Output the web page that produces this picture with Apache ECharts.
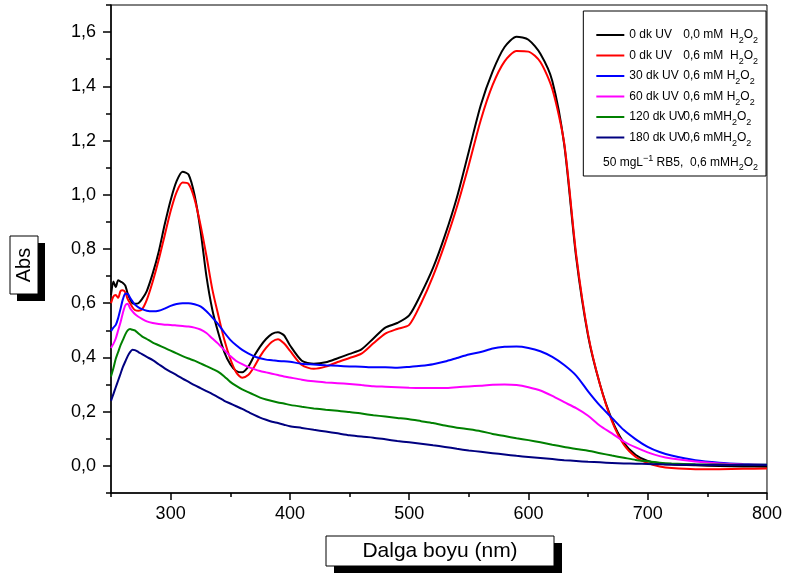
<!DOCTYPE html>
<html><head><meta charset="utf-8">
<script src="https://cdn.jsdelivr.net/npm/echarts@6/dist/echarts.min.js"></script>
<style>html,body{margin:0;padding:0;background:#fff}#c{width:785px;height:576px}</style>
</head><body><div id="c"></div>
<script>
const wavelengths = [250,252,254,256,258,260,262,264,266,268,270,273,276,280,285,290,295,300,305,310,315,320,325,330,335,340,345,350,355,360,365,370,375,380,385,390,395,400,410,420,430,440,450,460,470,480,490,500,510,520,530,540,550,560,570,580,590,600,610,620,630,640,650,660,670,680,690,700,710,720,740,760,780,800];

const abs0dk00 = [0.63,0.68,0.66,0.685,0.68,0.675,0.665,0.635,0.615,0.60,0.598,0.60,0.615,0.645,0.71,0.79,0.89,0.98,1.05,1.085,1.075,1.00,0.87,0.70,0.575,0.49,0.42,0.375,0.35,0.345,0.365,0.405,0.44,0.468,0.487,0.493,0.482,0.445,0.388,0.377,0.382,0.397,0.413,0.43,0.47,0.51,0.527,0.555,0.635,0.73,0.85,0.99,1.16,1.33,1.455,1.545,1.583,1.572,1.52,1.42,1.185,0.77,0.48,0.30,0.17,0.085,0.04,0.018,0.009,0.005,0.002,0.0,-0.002,-0.003];
const abs0dk06 = [0.60,0.625,0.63,0.62,0.645,0.648,0.64,0.615,0.60,0.585,0.575,0.572,0.577,0.612,0.68,0.76,0.85,0.94,1.01,1.045,1.04,0.985,0.89,0.775,0.65,0.555,0.465,0.395,0.345,0.325,0.335,0.365,0.404,0.435,0.458,0.467,0.452,0.425,0.372,0.358,0.366,0.383,0.398,0.414,0.452,0.488,0.505,0.52,0.60,0.70,0.82,0.955,1.11,1.275,1.405,1.492,1.53,1.528,1.49,1.39,1.19,0.78,0.485,0.30,0.165,0.078,0.033,0.01,-0.002,-0.008,-0.012,-0.012,-0.011,-0.01];
const abs30dk = [0.497,0.51,0.52,0.545,0.58,0.615,0.635,0.635,0.62,0.607,0.595,0.585,0.578,0.572,0.57,0.572,0.58,0.59,0.597,0.60,0.60,0.596,0.588,0.57,0.547,0.522,0.492,0.465,0.445,0.428,0.415,0.404,0.397,0.392,0.39,0.387,0.386,0.384,0.377,0.374,0.371,0.369,0.367,0.366,0.364,0.364,0.362,0.365,0.369,0.375,0.385,0.398,0.411,0.42,0.433,0.439,0.44,0.435,0.423,0.402,0.372,0.333,0.275,0.222,0.177,0.132,0.098,0.07,0.051,0.038,0.021,0.012,0.007,0.004];
const abs60dk = [0.435,0.45,0.47,0.50,0.53,0.565,0.592,0.598,0.582,0.57,0.56,0.55,0.542,0.533,0.527,0.523,0.521,0.52,0.518,0.516,0.514,0.51,0.503,0.49,0.47,0.45,0.427,0.405,0.387,0.375,0.365,0.357,0.35,0.345,0.34,0.335,0.33,0.326,0.318,0.312,0.308,0.305,0.302,0.298,0.294,0.292,0.29,0.288,0.287,0.287,0.287,0.29,0.293,0.296,0.299,0.30,0.298,0.29,0.278,0.258,0.235,0.213,0.185,0.148,0.12,0.09,0.068,0.05,0.036,0.027,0.016,0.009,0.005,0.003];
const abs120dk = [0.33,0.36,0.395,0.42,0.445,0.465,0.485,0.50,0.505,0.502,0.50,0.488,0.478,0.468,0.455,0.445,0.435,0.425,0.415,0.405,0.396,0.388,0.378,0.368,0.358,0.347,0.33,0.31,0.295,0.282,0.272,0.262,0.252,0.245,0.239,0.234,0.23,0.225,0.218,0.212,0.207,0.203,0.199,0.193,0.187,0.182,0.177,0.172,0.165,0.158,0.149,0.141,0.135,0.128,0.118,0.11,0.102,0.095,0.087,0.078,0.07,0.062,0.056,0.047,0.038,0.03,0.022,0.017,0.012,0.009,0.006,0.005,0.004,0.004];
const abs180dk = [0.24,0.265,0.29,0.315,0.34,0.365,0.385,0.405,0.42,0.428,0.427,0.42,0.412,0.402,0.39,0.375,0.36,0.347,0.335,0.322,0.31,0.298,0.287,0.276,0.265,0.253,0.24,0.23,0.22,0.21,0.199,0.188,0.178,0.17,0.163,0.158,0.152,0.146,0.14,0.133,0.127,0.12,0.113,0.108,0.104,0.098,0.092,0.087,0.082,0.076,0.07,0.063,0.057,0.052,0.047,0.042,0.037,0.033,0.029,0.025,0.021,0.018,0.015,0.013,0.011,0.009,0.008,0.007,0.006,0.005,0.004,0.003,0.003,0.003];

const xMajorTicks = [300,400,500,600,700,800];
const xMinorTicks = [250,350,450,550,650,750];
const yMajorTicks = [0,0.2,0.4,0.6,0.8,1.0,1.2,1.4,1.6];
const yMinorTicks = [-0.1,0.1,0.3,0.5,0.7,0.9,1.1,1.3,1.5,1.7];

const seriesNames = ['s0','s1','s2','s3','s4','s5'];
const legendTexts = [
  ['0 dk UV', '0,0 mM  H'],
  ['0 dk UV', '0,6 mM  H'],
  ['30 dk UV', '0,6 mM H'],
  ['60 dk UV', '0,6 mM H'],
  ['120 dk UV', '0,6 mMH'],
  ['180 dk UV', '0,6 mMH']
];
const noteText = ['50 mgL', '−1', ' RB5,  0,6 mMH'];
const xTitle = 'Dalga boyu (nm)';
const yTitle = 'Abs';

const seriesValues = [abs0dk00, abs0dk06, abs30dk, abs60dk, abs120dk, abs180dk];
const seriesColors = ['#000000','#ff0000','#0000ff','#ff00ff','#008000','#000080'];

const FONT = "'Liberation Sans', Arial, sans-serif";
const NARROW = "'Liberation Sans Narrow', 'Liberation Sans', Arial, sans-serif";

const chart = echarts.init(document.getElementById('c'), null, {renderer: 'canvas'});

const richStyles = {
  a: {fontFamily: NARROW, fontSize: 12, lineHeight: 15, color: '#000', width: 54},
  b: {fontFamily: NARROW, fontSize: 12, lineHeight: 15, color: '#000'},
  s: {fontFamily: NARROW, fontSize: 9, lineHeight: 9, verticalAlign: 'bottom', color: '#000', padding: [0, 0, -3, 0]}
};

const axisCommon = {
  type: 'value',
  splitLine: {show: false},
  axisLine: {show: true, onZero: false, lineStyle: {color: '#000', width: 1.5}}
};

chart.setOption({
  animation: false,
  backgroundColor: '#fff',
  grid: {left: 111, right: 18, top: 5, bottom: 83, show: true, borderColor: '#000', borderWidth: 1, containLabel: false},
  xAxis: [
    Object.assign({}, axisCommon, {
      min: 250, max: 800, position: 'bottom',
      axisTick: {show: true, length: 7, customValues: xMajorTicks, lineStyle: {color: '#000', width: 1.5}},
      axisLabel: {customValues: xMajorTicks, fontFamily: FONT, fontSize: 18, color: '#000', margin: 12}
    }),
    Object.assign({}, axisCommon, {
      min: 250, max: 800, position: 'bottom',
      axisLine: {show: false, onZero: false},
      axisTick: {show: true, length: 4, customValues: xMinorTicks, lineStyle: {color: '#000', width: 1.5}},
      axisLabel: {show: false}
    })
  ],
  yAxis: [
    Object.assign({}, axisCommon, {
      min: -0.1, max: 1.7, position: 'left',
      axisTick: {show: true, length: 8, customValues: yMajorTicks, lineStyle: {color: '#000', width: 1.5}},
      axisLabel: {customValues: yMajorTicks, fontFamily: FONT, fontSize: 18, color: '#000', margin: 15,
        formatter: v => v.toFixed(1).replace('.', ',')}
    }),
    Object.assign({}, axisCommon, {
      min: -0.1, max: 1.7, position: 'left',
      axisLine: {show: false, onZero: false},
      axisTick: {show: true, length: 5, customValues: yMinorTicks, lineStyle: {color: '#000', width: 1.5}},
      axisLabel: {show: false}
    })
  ],
  legend: {
    orient: 'vertical', right: 19, top: 11,
    padding: [18, 8, 28, 13],
    borderColor: '#000', borderWidth: 1, backgroundColor: '#fff',
    itemWidth: 28, itemHeight: 2, itemGap: 4, icon: 'rect', align: 'left',
    data: seriesNames,
    textStyle: {fontFamily: NARROW, fontSize: 12, color: '#000', rich: richStyles},
    formatter: name => {
      const t = legendTexts[seriesNames.indexOf(name)];
      return '{a|' + t[0] + '}{b|' + t[1] + '}{s|2}{b|O}{s|2}';
    }
  },
  graphic: [
    {type: 'rect', z: 10, shape: {x: 17, y: 243, width: 28, height: 58}, style: {fill: '#000'}},
    {type: 'rect', z: 11, shape: {x: 10, y: 236, width: 28, height: 58}, style: {fill: '#fff', stroke: '#000', lineWidth: 1}},
    {type: 'text', z: 12, x: 24, y: 265, rotation: Math.PI / 2,
      style: {text: yTitle, font: '20px ' + FONT, fill: '#000', align: 'center', verticalAlign: 'middle'}},
    {type: 'rect', z: 10, shape: {x: 334, y: 543, width: 228, height: 30}, style: {fill: '#000'}},
    {type: 'rect', z: 11, shape: {x: 326, y: 536, width: 228, height: 30}, style: {fill: '#fff', stroke: '#000', lineWidth: 1}},
    {type: 'text', z: 12, x: 440, y: 551,
      style: {text: xTitle, font: '21px ' + FONT, fill: '#000', align: 'center', verticalAlign: 'middle'}},
    {type: 'text', z: 20, x: 603, y: 163,
      style: {
        text: '{a|' + noteText[0] + '}{p|' + noteText[1] + '}{a|' + noteText[2] + '}{s|2}{a|O}{s|2}',
        align: 'left', verticalAlign: 'middle', fill: '#000',
        rich: {
          a: {fontFamily: NARROW, fontSize: 12, lineHeight: 18, fill: '#000'},
          p: {fontFamily: NARROW, fontSize: 9, lineHeight: 10, verticalAlign: 'top', fill: '#000'},
          s: {fontFamily: NARROW, fontSize: 9, lineHeight: 10, verticalAlign: 'bottom', fill: '#000'}
        }
      }}
  ],
  series: seriesValues.map((vals, i) => ({
    name: seriesNames[i],
    type: 'line',
    xAxisIndex: 0, yAxisIndex: 0,
    showSymbol: false, symbol: 'none',
    smooth: 0.25,
    color: seriesColors[i],
    lineStyle: {color: seriesColors[i], width: 2},
    data: wavelengths.map((w, k) => [w, vals[k]])
  }))
});
</script></body></html>
